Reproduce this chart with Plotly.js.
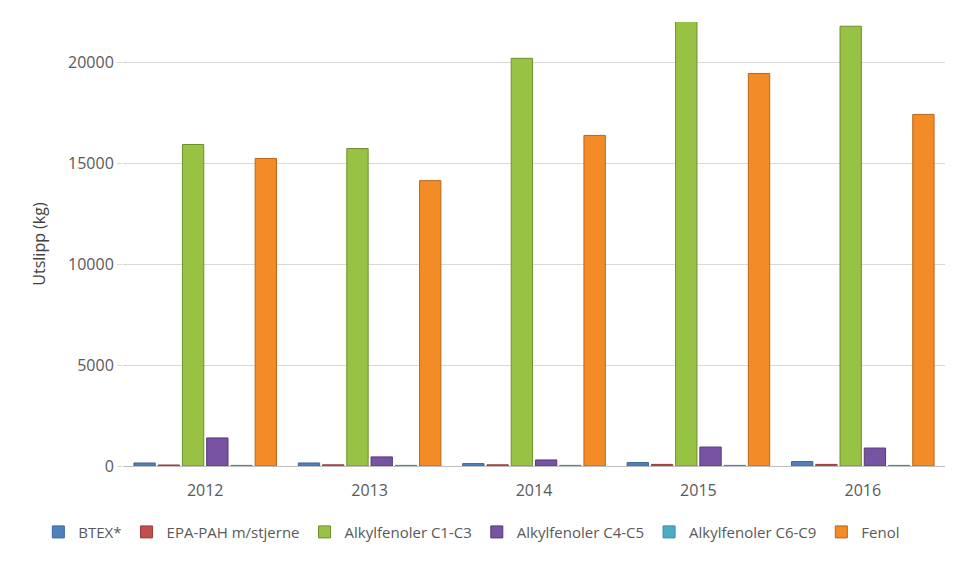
<!DOCTYPE html>
<html>
<head>
<meta charset="utf-8">
<script src="https://cdn.plot.ly/plotly-3.0.1.min.js"></script>
<style>html,body{margin:0;padding:0;background:#fff}#chart{width:968px;height:563px}</style>
</head>
<body>
<div id="chart"></div>
<script>
const years = ["2012", "2013", "2014", "2015", "2016"];
const seriesNames = ["BTEX*", "EPA-PAH m/stjerne", "Alkylfenoler C1-C3", "Alkylfenoler C4-C5", "Alkylfenoler C6-C9", "Fenol"];
const btex = [150, 150, 120, 170, 220];
const epaPah = [50, 60, 60, 80, 80];
const alkylC1C3 = [15930, 15730, 20200, 22100, 21790];
const alkylC4C5 = [1390, 450, 300, 940, 890];
const alkylC6C9 = [30, 30, 30, 30, 30];
const fenol = [15240, 14140, 16380, 19450, 17420];
const yTicks = [0, 5000, 10000, 15000, 20000];

const values = [btex, epaPah, alkylC1C3, alkylC4C5, alkylC6C9, fenol];
const fills = ["#4F81BD", "#C0504D", "#98C244", "#7853A4", "#4BACC6", "#F38C26"];
const edges = ["#3A6799", "#9A3C39", "#6E8E2C", "#553A7A", "#3A8CA3", "#B9651A"];

const font = "'Open Sans', sans-serif";
const traces = values.map((v, i) => ({
  type: "bar",
  name: seriesNames[i],
  x: years,
  y: v,
  marker: {color: fills[i], line: {color: edges[i], width: 1}},
  hoverinfo: "x+y+name"
}));

const layout = {
  width: 968, height: 563,
  margin: {l: 123, r: 23, t: 22, b: 97},
  paper_bgcolor: "#fff", plot_bgcolor: "#fff",
  barmode: "group",
  bargap: 0.115,
  bargroupgap: 0.12,
  font: {family: font, size: 15, color: "#595959"},
  xaxis: {
    type: "category",
    showgrid: false,
    showline: true, linecolor: "#BFBFBF", linewidth: 1,
    ticks: "outside", ticklen: 10, tickcolor: "rgba(0,0,0,0)",
    tickfont: {size: 16, color: "#595959"},
    automargin: false,
    fixedrange: true
  },
  yaxis: {
    range: [0, 22000],
    tickvals: yTicks,
    ticktext: yTicks.map(String),
    showgrid: true, gridcolor: "#D9D9D9", gridwidth: 1,
    zeroline: false,
    showline: false,
    ticks: "outside", ticklen: 5, tickcolor: "#D9D9D9",
    tickfont: {size: 16, color: "#595959"},
    title: {text: "Utslipp (kg)", font: {size: 16, color: "#404040"}, standoff: 18},
    automargin: false,
    fixedrange: true
  },
  legend: {
    orientation: "h",
    x: -0.103, xanchor: "left",
    y: -0.149, yanchor: "middle",
    font: {size: 15, color: "#595959"},
    itemwidth: 30,
    traceorder: "normal"
  },
  showlegend: true
};

Plotly.newPlot("chart", traces, layout, {displayModeBar: false, staticPlot: true});
</script>
</body>
</html>
